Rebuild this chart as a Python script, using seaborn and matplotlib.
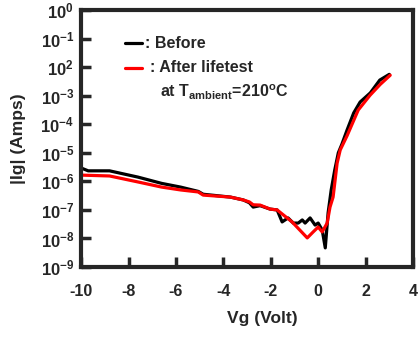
import numpy as np
import pandas as pd
import matplotlib
matplotlib.use('Agg')
import matplotlib.pyplot as plt
import seaborn as sns

# gate current (log10 of |Ig| in A)
vg_before = [-10, -9.7, -8.8, -7.6, -6.6, -5.8, -5.06, -4.85, -3.7, -3.16, -2.9, -2.74,
             -2.45, -2.03, -1.73, -1.52, -1.27, -1.05, -0.84, -0.67, -0.55, -0.34, -0.13,
             0.0, 0.17, 0.3, 0.42, 0.55, 0.7, 0.85, 1.0, 1.22, 1.5, 1.77, 2.2, 2.6, 3.0]
logig_before = [-5.53, -5.63, -5.63, -5.85, -6.07, -6.2, -6.35, -6.45, -6.55, -6.65, -6.75, -6.9,
                -6.85, -6.97, -7.0, -7.42, -7.28, -7.46, -7.46, -7.35, -7.46, -7.28, -7.53,
                -7.46, -7.7, -8.33, -7.1, -6.3, -5.6, -5.0, -4.7, -4.2, -3.6, -3.22, -2.9, -2.45, -2.25]

vg_after = [-10, -8.8, -7.6, -6.6, -5.8, -5.06, -4.85, -3.7, -3.16, -2.9, -2.74, -2.45,
            -2.03, -1.73, -1.1, -0.46, -0.21, 0.0, 0.17, 0.38, 0.5, 0.63, 0.8, 0.93,
            1.22, 1.69, 2.19, 2.62, 3.04]
logig_after = [-5.78, -5.81, -6.02, -6.2, -6.3, -6.37, -6.48, -6.55, -6.65, -6.72, -6.82, -6.83,
               -6.97, -7.0, -7.42, -7.98, -7.77, -7.6, -7.77, -7.46, -6.9, -6.55, -5.36, -4.9,
               -4.4, -3.5, -2.98, -2.6, -2.28]

xticks = [-10, -8, -6, -4, -2, 0, 2, 4]
xticklabels = ['-10', '-8', '-6', '-4', '-2', '0', '2', '4']
ytick_exps = [0, -1, -2, -3, -4, -5, -6, -7, -8, -9]
ytick_shown = ['0', '-1', '2', '-3', '-4', '-5', '-6', '-7', '-8', '-9']  # "10^2" as printed

sns.set_style('ticks')
plt.rcParams['font.family'] = ['Liberation Sans', 'DejaVu Sans']
plt.rcParams['font.weight'] = 'bold'
plt.rcParams['mathtext.fontset'] = 'custom'
plt.rcParams['mathtext.rm'] = 'Liberation Sans:bold'
plt.rcParams['mathtext.bf'] = 'Liberation Sans:bold'
plt.rcParams['mathtext.it'] = 'Liberation Sans:bold'
plt.rcParams['mathtext.sf'] = 'Liberation Sans:bold'

df_b = pd.DataFrame({'Vg': vg_before, 'Ig': 10.0 ** np.array(logig_before)})
df_a = pd.DataFrame({'Vg': vg_after, 'Ig': 10.0 ** np.array(logig_after)})

fig = plt.figure(figsize=(4.18, 3.38), dpi=100)
ax = fig.add_axes([0.194, 0.21, 0.794, 0.76])

sns.lineplot(data=df_b, x='Vg', y='Ig', sort=False, color='black', lw=2.3, ax=ax)
sns.lineplot(data=df_a, x='Vg', y='Ig', sort=False, color='#ff0000', lw=2.3, ax=ax)

ax.set_yscale('log')
ax.set_xlim(-10, 4)
ax.set_ylim(1e-9, 1)
ax.set_xticks(xticks)
ax.set_xticklabels(xticklabels, fontsize=11.5, fontweight='bold')
ax.set_yticks([10.0 ** e for e in ytick_exps])
ax.set_yticklabels([r'$\mathbf{10^{%s}}$' % s for s in ytick_shown], fontsize=12)
ax.minorticks_off()
ax.tick_params(direction='in', length=7, width=2.5, pad=12, axis='x')
ax.tick_params(direction='in', length=7, width=2.5, pad=5, axis='y')
for sp in ax.spines.values():
    sp.set_linewidth(3)

ax.set_xlabel('Vg (Volt)', fontsize=12.5, fontweight='bold')
ax.set_ylabel('|Ig| (Amps)', fontsize=12.5, fontweight='bold')
ax.xaxis.set_label_coords(0.545, -0.17)
ax.yaxis.set_label_coords(-0.165, 0.5)

# legend drawn by hand
ax.plot([0.133, 0.185], [0.872, 0.872], color='black', lw=2.3, transform=ax.transAxes)
ax.plot([0.133, 0.185], [0.775, 0.775], color='#ff0000', lw=2.3, transform=ax.transAxes)
ax.text(0.192, 0.872, ': Before', transform=ax.transAxes, fontsize=11.5,
        fontweight='bold', va='center')
ax.text(0.207, 0.775, ': After lifetest', transform=ax.transAxes, fontsize=11.5,
        fontweight='bold', va='center')
ax.text(0.237, 0.68, r'at T$_{\mathbf{ambient}}$=210$^{\mathbf{o}}$C', transform=ax.transAxes,
        fontsize=11.5, fontweight='bold', va='center')

fig.savefig('out.png', dpi=100)
